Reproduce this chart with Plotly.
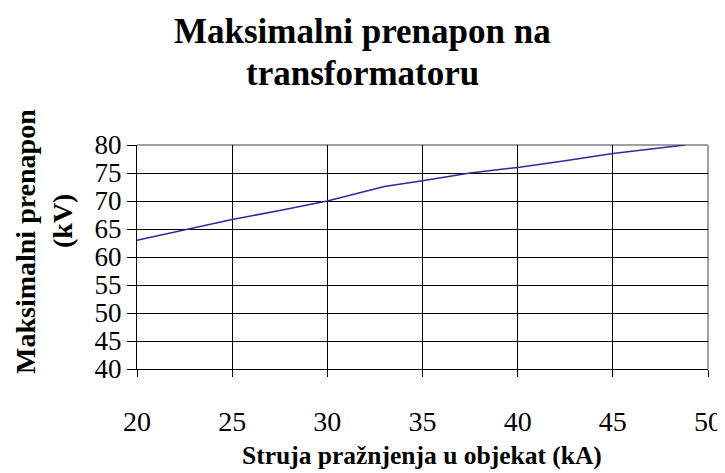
import plotly.graph_objects as go

# Data
struja_kA = [20, 22.5, 25, 27.5, 30, 33, 35, 37.5, 40, 42.5, 45, 48.8]
prenapon_kV = [63.0, 64.9, 66.7, 68.3, 70.0, 72.6, 73.6, 75.0, 76.0, 77.2, 78.5, 80.0]

x_ticks = [20, 25, 30, 35, 40, 45, 50]
y_ticks = [40, 45, 50, 55, 60, 65, 70, 75, 80]

title_line1 = "Maksimalni prenapon na"
title_line2 = "transformatoru"
x_title = "Struja pražnjenja u objekat (kA)"
y_title_line1 = "Maksimalni prenapon"
y_title_line2 = "(kV)"

SERIF = "Liberation Serif, Times New Roman, serif"

OFF = 8  # page body margin offset
W, H = 725 - OFF, 473 - OFF
L, R, T, B = 137 - OFF, 708 - OFF, 145 - OFF, 369 - OFF


def px(x):
    return (x - OFF - L) / (R - L)


def py(y):
    return (B - (y - OFF)) / (B - T)


fig = go.Figure()
fig.add_trace(go.Scatter(
    x=struja_kA, y=prenapon_kV, mode="lines",
    line=dict(color="#2b2b9c", width=1.5),
    showlegend=False, hoverinfo="skip",
))

fig.update_layout(
    width=W, height=H,
    margin=dict(l=L, r=W - R, t=T, b=H - B, autoexpand=False),
    paper_bgcolor="white", plot_bgcolor="white",
    font=dict(family=SERIF, color="black"),
    xaxis=dict(
        range=[20, 50], tickvals=x_ticks, ticktext=[str(v) for v in x_ticks],
        showgrid=True, gridcolor="black", gridwidth=1,
        showline=True, linecolor="black", linewidth=1,
        ticks="outside", ticklen=7, tickcolor="black",
        tickfont=dict(size=28, family=SERIF),
        ticklabelstandoff=20, automargin=False,
        zeroline=False, fixedrange=True,
    ),
    yaxis=dict(
        range=[40, 80], tickvals=y_ticks, ticktext=[str(v) for v in y_ticks],
        showgrid=True, gridcolor="black", gridwidth=1,
        showline=True, linecolor="black", linewidth=1,
        ticks="outside", ticklen=9, tickcolor="black",
        tickfont=dict(size=27, family=SERIF), automargin=False,
        zeroline=False, fixedrange=True,
    ),
    shapes=[
        dict(type="line", xref="paper", yref="paper", x0=0, x1=1, y0=1, y1=1,
             line=dict(color="#a0a0a0", width=2), layer="between"),
        dict(type="line", xref="paper", yref="paper", x0=1, x1=1, y0=0, y1=1,
             line=dict(color="#a0a0a0", width=2), layer="between"),
    ],
    annotations=[
        dict(text=title_line1, xref="paper", yref="paper",
             x=px(362), y=py(31), xanchor="center", yanchor="middle",
             showarrow=False, font=dict(size=35, family=SERIF, weight="bold")),
        dict(text=title_line2, xref="paper", yref="paper",
             x=px(362), y=py(73), xanchor="center", yanchor="middle",
             showarrow=False, font=dict(size=35, family=SERIF, weight="bold")),
        dict(text=x_title, xref="paper", yref="paper",
             x=px(422), y=py(455), xanchor="center", yanchor="middle",
             showarrow=False, font=dict(size=25.5, family=SERIF, weight="bold")),
        dict(text=y_title_line1, xref="paper", yref="paper", textangle=-90,
             x=px(25), y=py(242), xanchor="center", yanchor="middle",
             showarrow=False, font=dict(size=28, family=SERIF, weight="bold")),
        dict(text=y_title_line2, xref="paper", yref="paper", textangle=-90,
             x=px(62), y=py(221), xanchor="center", yanchor="middle",
             showarrow=False, font=dict(size=28, family=SERIF, weight="bold")),
    ],
)

fig.write_html("out.html")
